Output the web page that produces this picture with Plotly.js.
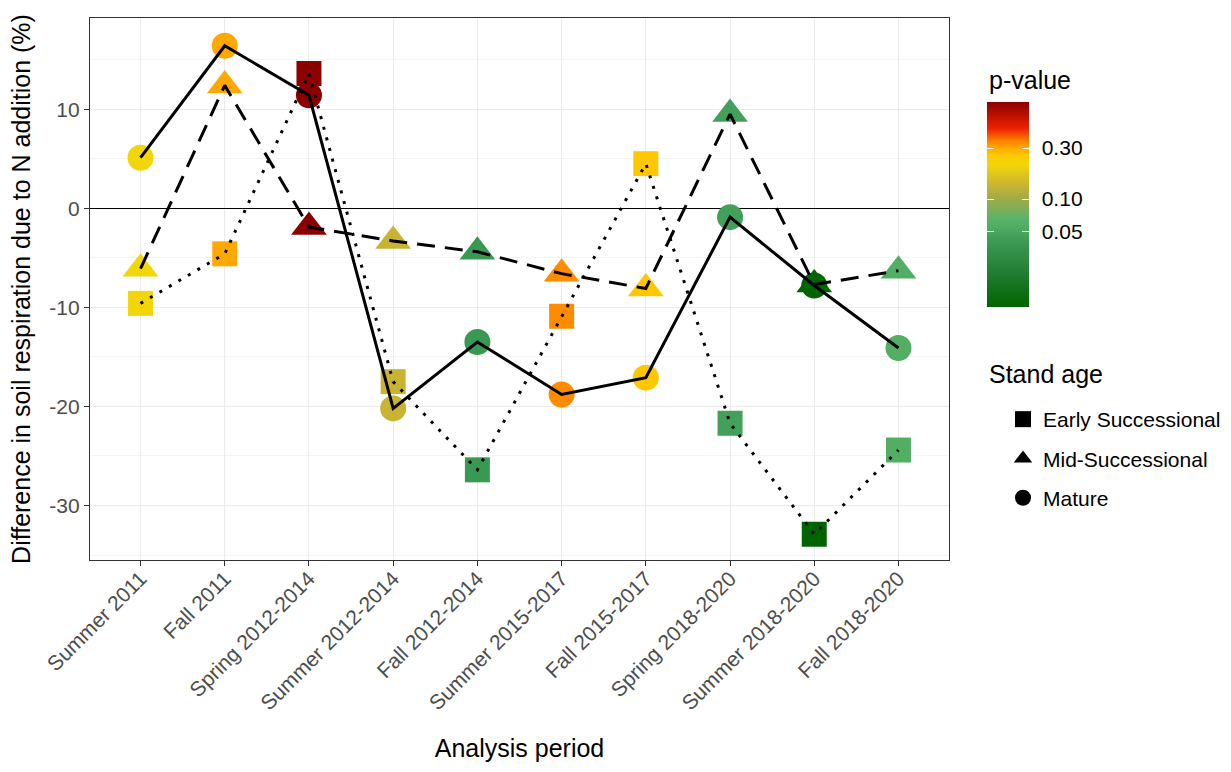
<!DOCTYPE html>
<html>
<head>
<meta charset="utf-8">
<script src="https://cdn.plot.ly/plotly-3.0.1.min.js"></script>
<style>html,body{margin:0;padding:0;background:#fff;}#chart{width:1231px;height:772px;}</style>
</head>
<body>
<div id="chart"></div>
<script>
// ---- data ----
const categories = ["Summer 2011","Fall 2011","Spring 2012-2014","Summer 2012-2014","Fall 2012-2014",
  "Summer 2015-2017","Fall 2015-2017","Spring 2018-2020","Summer 2018-2020","Fall 2018-2020"];
const earlyValues  = [-9.6, -4.6, 13.6, -17.5, -26.4, -10.9, 4.5, -21.7, -32.9, -24.4];
const midValues    = [-6.1, 12.4, -1.9, -3.3, -4.4, -6.6, -8.1, 9.5, -7.7, -6.3];
const matureValues = [5.1, 16.4, 11.4, -20.2, -13.5, -18.8, -17.1, -0.9, -7.8, -14.1];
const pValues      = [0.21, 0.30, 0.81, 0.135, 0.038, 0.34, 0.26, 0.045, 0.0098, 0.056];
const pTickValues  = [0.05, 0.10, 0.30];
const pTickLabels  = ["0.05", "0.10", "0.30"];
const yTickValues  = [-30, -20, -10, 0, 10];
const yTickLabels  = ["-30", "-20", "-10", "0", "10"];
const standAges    = ["Early Successional", "Mid-Successional", "Mature"];

// ---- styles ----
const FONT = "Liberation Sans, Arial, sans-serif";
const colorscale = [
  [0.00, "#006400"], [0.15, "#1E7A2E"], [0.30, "#37964F"], [0.345, "#42A05A"],
  [0.395, "#52AE62"], [0.43, "#5AB36A"], [0.52, "#9AAA4A"], [0.594, "#C8B432"],
  [0.694, "#F2D60A"], [0.742, "#FFC800"], [0.775, "#FFA800"], [0.803, "#FF8C00"],
  [0.87, "#EE2200"], [1.00, "#8B0000"]
];
const clearScale = [[0, "rgba(0,0,0,0)"], [1, "rgba(0,0,0,0)"]];
const logP = pValues.map(v => Math.log10(v));
const cmin = Math.min(...logP), cmax = Math.max(...logP);
const logTicks = pTickValues.map(v => Math.log10(v));

// pixel geometry
const W = 1231, H = 772;
const M = {l: 90, r: 282, t: 18, b: 212, autoexpand: false};
const plotW = W - M.l - M.r, plotH = H - M.t - M.b;
const cbLeftPx = 987, cbTopPx = 102, cbLenPx = 205, cbThick = 42;
const px2x = p => (p - M.l) / plotW;
const px2y = p => (H - M.b - p) / plotH;

function colorbarSpec(leftPx, thick, opts) {
  return Object.assign({
    x: px2x(leftPx), xanchor: "left", xref: "paper", xpad: 0,
    y: px2y(cbTopPx), yanchor: "top", yref: "paper", ypad: 0,
    len: cbLenPx, lenmode: "pixels", thickness: thick, thicknessmode: "pixels",
    outlinewidth: 0, tickmode: "array", tickvals: logTicks, ticktext: pTickLabels,
    bgcolor: "rgba(0,0,0,0)"
  }, opts);
}

const seriesDefs = [
  {vals: earlyValues,  symbol: "square",      size: 25, dash: "3px,8px"},
  {vals: midValues,    symbol: "triangle-up", size: 31, dash: "18px,10px"},
  {vals: matureValues, symbol: "circle",      size: 26, dash: "solid"}
];

const traces = [];
// markers first (lines drawn on top, as in reference)
seriesDefs.forEach((s, i) => {
  traces.push({
    type: "scatter", mode: "markers", x: categories, y: s.vals,
    showlegend: false, hoverinfo: "x+y",
    marker: {
      symbol: s.symbol, size: s.size, color: logP, colorscale: colorscale,
      cmin: cmin, cmax: cmax, line: {width: 0},
      showscale: i === 0,
      colorbar: colorbarSpec(cbLeftPx, cbThick, {
        ticks: "outside", ticklen: 9, tickcolor: "rgba(0,0,0,0)", tickwidth: 1,
        tickfont: {family: FONT, size: 21, color: "#000"}
      })
    }
  });
});
seriesDefs.forEach(s => {
  traces.push({
    type: "scatter", mode: "lines", x: categories, y: s.vals,
    showlegend: false, hoverinfo: "skip",
    line: {color: "#000", width: 3, dash: s.dash}
  });
});
// transparent overlay colorbars that only carry the white tick marks (right and left edges)
[[cbLeftPx, cbThick], [cbLeftPx, 7]].forEach(([left, thick]) => {
  traces.push({
    type: "scatter", mode: "markers", x: [categories[0]], y: [null],
    showlegend: false, hoverinfo: "skip",
    marker: {
      color: [cmin], colorscale: clearScale, cmin: cmin, cmax: cmax, showscale: true,
      colorbar: colorbarSpec(left, thick, {
        ticks: "inside", ticklen: 7, tickcolor: "#ffffff", tickwidth: 1.2,
        showticklabels: false
      })
    }
  });
});
// legend keys
seriesDefs.forEach((s, i) => {
  traces.push({
    type: "scatter", mode: "markers", x: [null], y: [null], name: standAges[i],
    legendgroup: "g" + i, showlegend: true,
    marker: {symbol: s.symbol, size: 16, color: "#000"}
  });
});

const annotations = [
  {text: "p-value", xref: "paper", yref: "paper", x: px2x(987), y: px2y(80),
   xanchor: "left", yanchor: "middle", showarrow: false,
   font: {family: FONT, size: 25, color: "#000"}},
  {text: "Stand age", xref: "paper", yref: "paper", x: px2x(987), y: px2y(374),
   xanchor: "left", yanchor: "middle", showarrow: false,
   font: {family: FONT, size: 25, color: "#000"}}
];

const layout = {
  width: W, height: H, margin: M,
  paper_bgcolor: "#fff", plot_bgcolor: "#fff",
  font: {family: FONT, color: "#000"},
  showlegend: true,
  xaxis: {
    type: "category", categoryorder: "array", categoryarray: categories,
    range: [-0.6, categories.length - 0.4],
    tickangle: -45, tickfont: {family: FONT, size: 21, color: "#4d4d4d"},
    ticklabelstandoff: -8,
    ticks: "outside", ticklen: 5, tickcolor: "#333333", tickwidth: 1,
    showgrid: true, gridcolor: "#EBEBEB", gridwidth: 1,
    showline: true, mirror: true, linecolor: "#333333", linewidth: 1.2,
    zeroline: false, automargin: false,
    title: {text: "Analysis period", standoff: 26, font: {family: FONT, size: 25, color: "#000"}}
  },
  yaxis: {
    range: [-35.5, 19.2], tickmode: "array", tickvals: yTickValues, ticktext: yTickLabels,
    tickfont: {family: FONT, size: 21, color: "#4d4d4d"},
    ticks: "outside", ticklen: 5, tickcolor: "#333333", tickwidth: 1,
    showgrid: true, gridcolor: "#EBEBEB", gridwidth: 1,
    minor: {dtick: 5, tick0: 0, showgrid: true, gridcolor: "#F4F4F4", gridwidth: 1, ticks: ""},
    showline: true, mirror: true, linecolor: "#333333", linewidth: 1.2,
    zeroline: true, zerolinecolor: "#000", zerolinewidth: 1.2, automargin: false,
    title: {text: "Difference in soil respiration due to N addition (%)", font: {family: FONT, size: 25, color: "#000"}}
  },
  legend: {
    x: px2x(1003), xanchor: "left", y: px2y(399), yanchor: "top",
    font: {family: FONT, size: 21, color: "#000"},
    tracegroupgap: 9, bgcolor: "rgba(0,0,0,0)", borderwidth: 0
  },
  annotations: annotations
};

Plotly.newPlot("chart", traces, layout, {displayModeBar: false, staticPlot: true});
</script>
</body>
</html>
